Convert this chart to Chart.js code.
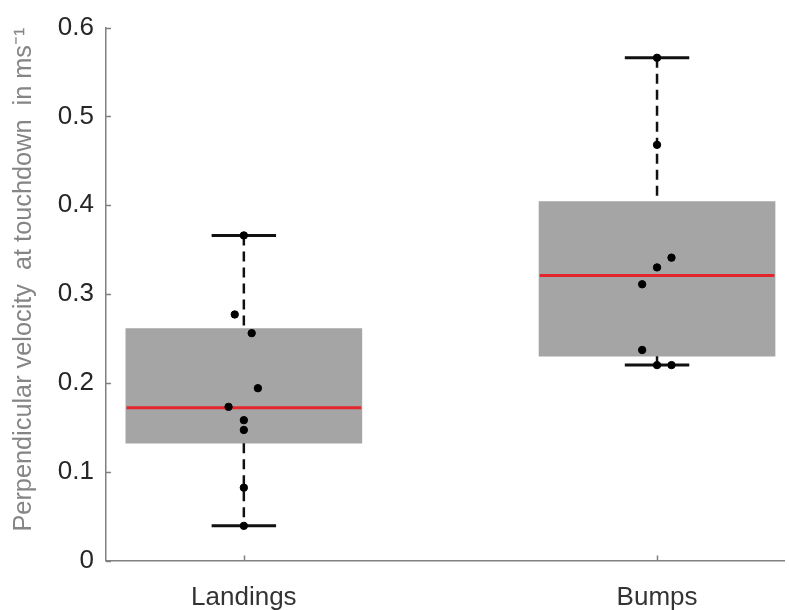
<!DOCTYPE html>
<html>
<head>
<meta charset="utf-8">
<script src="https://cdn.jsdelivr.net/npm/chart.js@4/dist/chart.umd.min.js"></script>
<style>
  html, body { margin: 0; padding: 0; background: #ffffff; }
  #wrap { width: 789px; height: 610px; }
</style>
</head>
<body>
<div id="wrap"><canvas id="boxChart" width="789" height="610"></canvas></div>
<script>
// groups and their x positions
const categories = ["Landings", "Bumps"];
const positions = [1, 2];

// box statistics per group
const q1 = [0.132, 0.230];
const medians = [0.172, 0.321];
const q3 = [0.261, 0.404];
const whiskerLow = [0.039, 0.220];
const whiskerHigh = [0.366, 0.566];

// individual trials, with the horizontal jitter of each dot
const landingsValues = [0.366, 0.277, 0.256, 0.194, 0.173, 0.158, 0.147, 0.082, 0.039];
const landingsJitter = [0, -0.022, 0.019, 0.034, -0.037, 0, 0, 0, 0];
const bumpsValues = [0.566, 0.468, 0.341, 0.330, 0.311, 0.237, 0.220, 0.220];
const bumpsJitter = [0, 0, 0.035, 0, -0.036, -0.036, 0, 0.035];

const yTicks = [0, 0.1, 0.2, 0.3, 0.4, 0.5, 0.6];

// ---------------------
// geometry helpers
// ---------------------

const boxHalf = 0.284;   // half box width, x units
const capHalf = 0.078;   // half cap width, x units
const axisColor = "#808080";

function segments(fn){
    // one line per group, separated by a gap point
    const pts = [];
    positions.forEach((p, i)=>{
        fn(p, i).forEach(pt=>pts.push(pt));
        pts.push({x: p + 0.5, y: null});
    });
    return pts;
}

const boxData = positions.map((p, i)=>({x: p, y: [q1[i], q3[i]]}));

const medianData = segments((p, i)=>[
    {x: p - boxHalf, y: medians[i]},
    {x: p + boxHalf, y: medians[i]}
]);

const whiskerData = segments((p, i)=>[
    {x: p, y: whiskerHigh[i]},
    {x: p, y: q3[i]},
    {x: p, y: null},
    {x: p, y: q1[i]},
    {x: p, y: whiskerLow[i]}
]);

const capData = segments((p, i)=>[
    {x: p - capHalf, y: whiskerHigh[i]},
    {x: p + capHalf, y: whiskerHigh[i]},
    {x: p, y: null},
    {x: p - capHalf, y: whiskerLow[i]},
    {x: p + capHalf, y: whiskerLow[i]}
]);

const dotData = [];
landingsValues.forEach((v, i)=>dotData.push({x: positions[0] + landingsJitter[i], y: v}));
bumpsValues.forEach((v, i)=>dotData.push({x: positions[1] + bumpsJitter[i], y: v}));

// ---------------------
// small inward tick marks
// ---------------------

const inwardTicks = {
    id: "inwardTicks",
    afterDraw(chart){
        const ctx = chart.ctx;
        const xs = chart.scales.x, ys = chart.scales.y;
        const area = chart.chartArea;
        ctx.save();
        ctx.strokeStyle = axisColor;
        ctx.lineWidth = 1.5;
        ctx.beginPath();
        ys.ticks.forEach(t=>{
            const py = Math.round(ys.getPixelForValue(t.value)) + 0.5;
            ctx.moveTo(area.left, py);
            ctx.lineTo(area.left + 5, py);
        });
        xs.ticks.forEach(t=>{
            const px = Math.round(xs.getPixelForValue(t.value)) + 0.5;
            ctx.moveTo(px, area.bottom);
            ctx.lineTo(px, area.bottom - 5);
        });
        ctx.stroke();
        ctx.restore();
    }
};

// ---------------------
// chart
// ---------------------

new Chart(

document.getElementById("boxChart"),

{

data:{

datasets:[

{
type:"scatter",
data:dotData,
backgroundColor:"#000000",
borderColor:"#000000",
pointRadius:3.7,
pointHoverRadius:3.7,
order:0
},

{
type:"line",
data:capData,
borderColor:"#111111",
borderWidth:3,
pointRadius:0,
spanGaps:false,
order:1
},

{
type:"line",
data:whiskerData,
borderColor:"#111111",
borderWidth:2.5,
borderDash:[10,6],
pointRadius:0,
spanGaps:false,
order:2
},

{
type:"line",
data:medianData,
borderColor:"#e3262b",
borderWidth:3,
pointRadius:0,
spanGaps:false,
order:3
},

{
type:"bar",
data:boxData,
backgroundColor:"#a5a5a5",
borderWidth:0,
barThickness:236,
order:4
}

]

},

options:{

responsive:false,
animation:false,
events:[],
layout:{padding:{top:25, right:0, bottom:0, left:0}},

plugins:{
    legend:{display:false},
    tooltip:{enabled:false}
},

scales:{

x:{
    type:"linear",
    min:0.6664,
    max:2.308,
    offset:false,
    afterBuildTicks(scale){
        scale.ticks = positions.map(v=>({value:v}));
    },
    afterFit(scale){
        scale.height = 49.5;
    },
    grid:{drawOnChartArea:false, drawTicks:false},
    border:{color:axisColor, width:1.5},
    ticks:{
        padding:22,
        color:"#333333",
        font:{family:"'Liberation Sans', Arial, sans-serif", size:26},
        callback(value){
            const i = positions.indexOf(value);
            return i >= 0 ? categories[i] : "";
        }
    }
},

y:{
    min:0,
    max:0.6,
    afterBuildTicks(scale){
        scale.ticks = yTicks.map(v=>({value:v}));
    },
    afterFit(scale){
        scale.width = 106;
    },
    grid:{drawOnChartArea:false, drawTicks:false},
    border:{color:axisColor, width:1.5},
    ticks:{
        padding:12,
        color:"#262626",
        font:{family:"'Liberation Sans', Arial, sans-serif", size:26},
        callback(value){
            return value === 0 ? "0" : value.toFixed(1);
        }
    },
    title:{
        display:true,
        text:"Perpendicular velocity  at touchdown  in ms\u207B\u00B9",
        align:"end",
        color:"#858585",
        padding:{top:9, bottom:0},
        font:{family:"'Liberation Sans', Arial, sans-serif", size:25.3}
    }
}

}

},

plugins:[inwardTicks]

}

);
</script>
</body>
</html>
